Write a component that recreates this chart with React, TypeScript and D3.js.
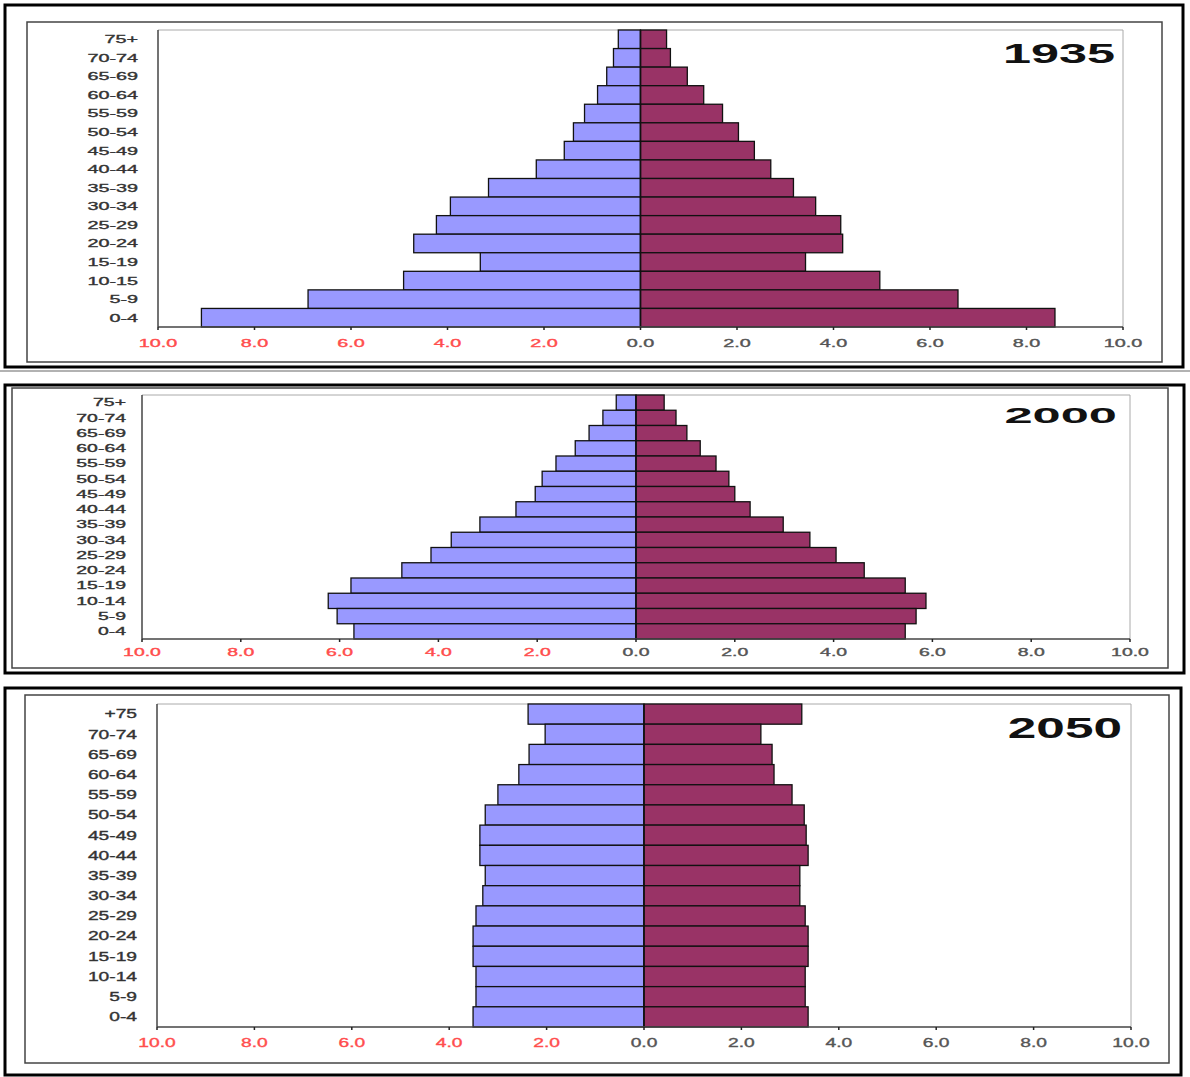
import * as d3 from "d3";

// age groups, top to bottom, as printed on each pyramid
const ages1935 = ["75+", "70-74", "65-69", "60-64", "55-59", "50-54", "45-49", "40-44", "35-39", "30-34", "25-29", "20-24", "15-19", "10-15", "5-9", "0-4"];
const ages2000 = ["75+", "70-74", "65-69", "60-64", "55-59", "50-54", "45-49", "40-44", "35-39", "30-34", "25-29", "20-24", "15-19", "10-14", "5-9", "0-4"];
const ages2050 = ["+75", "70-74", "65-69", "60-64", "55-59", "50-54", "45-49", "40-44", "35-39", "30-34", "25-29", "20-24", "15-19", "10-14", "5-9", "0-4"];

// % of population, left (blue) and right (maroon)
const male1935 = [0.46, 0.56, 0.7, 0.89, 1.16, 1.39, 1.58, 2.16, 3.15, 3.94, 4.23, 4.7, 3.32, 4.91, 6.89, 9.1];
const female1935 = [0.54, 0.62, 0.97, 1.31, 1.7, 2.03, 2.36, 2.7, 3.17, 3.63, 4.15, 4.19, 3.42, 4.96, 6.58, 8.59];
const male2000 = [0.4, 0.67, 0.95, 1.23, 1.62, 1.9, 2.04, 2.43, 3.16, 3.74, 4.15, 4.74, 5.77, 6.23, 6.05, 5.71];
const female2000 = [0.57, 0.81, 1.03, 1.3, 1.62, 1.88, 2.0, 2.31, 2.98, 3.52, 4.05, 4.62, 5.45, 5.87, 5.67, 5.45];
const male2050 = [2.38, 2.03, 2.36, 2.57, 3.0, 3.26, 3.37, 3.37, 3.26, 3.31, 3.45, 3.51, 3.51, 3.45, 3.45, 3.51];
const female2050 = [3.24, 2.4, 2.63, 2.67, 3.04, 3.29, 3.33, 3.37, 3.2, 3.2, 3.31, 3.37, 3.37, 3.31, 3.31, 3.37];

const xTicks = d3.range(-10, 10.01, 2);

const font = "'Liberation Sans', Arial, sans-serif";
const blue = "#9999ff";
const maroon = "#993366";

type Panel = {
  year: string;
  ages: string[];
  left: number[];
  right: number[];
  outer: [number, number, number, number];
  inner: [number, number, number, number];
  plot: { l: number; t: number; r: number; b: number };
  labelX: number;
  labelSize: number;
  sx: number;
  tickY: number;
  titleX: number;
  titleY: number;
  titleSize: number;
  titleSx: number;
};

const panels: Panel[] = [
  {
    year: "1935", ages: ages1935, left: male1935, right: female1935,
    outer: [5, 5, 1183, 367], inner: [27, 22, 1162, 362],
    plot: { l: 158, t: 30, r: 1123, b: 327 },
    labelX: 138, labelSize: 11, sx: 1.8, tickY: 347,
    titleX: 1115, titleY: 63, titleSize: 28, titleSx: 1.8,
  },
  {
    year: "2000", ages: ages2000, left: male2000, right: female2000,
    outer: [5, 385, 1184, 673], inner: [12, 388, 1168, 668],
    plot: { l: 142, t: 395, r: 1130, b: 639 },
    labelX: 126, labelSize: 10.5, sx: 1.85, tickY: 656,
    titleX: 1117, titleY: 423, titleSize: 22, titleSx: 2.3,
  },
  {
    year: "2050", ages: ages2050, left: male2050, right: female2050,
    outer: [5, 688, 1181, 1075], inner: [25, 695, 1169, 1063],
    plot: { l: 157, t: 704, r: 1131, b: 1027 },
    labelX: 137, labelSize: 12, sx: 1.6, tickY: 1047,
    titleX: 1122, titleY: 738, titleSize: 29, titleSx: 1.77,
  },
];

function Pyramid({ p }: { p: Panel }) {
  const { l, t, r, b } = p.plot;
  const x = d3.scaleLinear([-10, 10], [l, r]);
  const y = d3.scaleBand(p.ages, [t, b]).padding(0);
  const x0 = x(0);

  return (
    <g>
      <rect x={p.outer[0]} y={p.outer[1]} width={p.outer[2] - p.outer[0]} height={p.outer[3] - p.outer[1]} fill="white" stroke="#000" strokeWidth={3} />
      <rect x={p.inner[0]} y={p.inner[1]} width={p.inner[2] - p.inner[0]} height={p.inner[3] - p.inner[1]} fill="white" stroke="#444" strokeWidth={1.5} />

      {/* plot frame */}
      <line x1={l} x2={r} y1={t} y2={t} stroke="#aaa" />
      <line x1={r} x2={r} y1={t} y2={b} stroke="#aaa" />

      {/* bars */}
      <g stroke="#111" strokeWidth={1.3}>
        {p.ages.map((a, i) => (
          <rect key={"l" + a} x={x(-p.left[i])} y={y(a)} width={x0 - x(-p.left[i])} height={y.bandwidth()} fill={blue} />
        ))}
        {p.ages.map((a, i) => (
          <rect key={"r" + a} x={x0} y={y(a)} width={x(p.right[i]) - x0} height={y.bandwidth()} fill={maroon} />
        ))}
      </g>
      <line x1={x0} x2={x0} y1={t} y2={b} stroke="#111" strokeWidth={1.5} />

      {/* axes */}
      <line x1={l} x2={l} y1={t} y2={b} stroke="#444" strokeWidth={1.5} />
      <line x1={l} x2={r} y1={b} y2={b} stroke="#444" strokeWidth={1.5} />
      {xTicks.map((v) => (
        <g key={v}>
          <line x1={x(v)} x2={x(v)} y1={b} y2={b + 3} stroke="#222" strokeWidth={1.5} />
          <text
            transform={`translate(${x(v)},${p.tickY}) scale(${p.sx},1)`}
            textAnchor="middle"
            fontFamily={font}
            fontSize={p.labelSize}
            fill={v < 0 ? "#ff4d4d" : "#555"}
            stroke={v < 0 ? "#ff4d4d" : "#555"}
            strokeWidth={0.35}
          >
            {Math.abs(v).toFixed(1)}
          </text>
        </g>
      ))}

      {/* age labels */}
      {p.ages.map((a) => (
        <text
          key={a}
          transform={`translate(${p.labelX},${(y(a) ?? 0) + y.bandwidth() / 2 + p.labelSize * 0.36}) scale(${p.sx},1)`}
          textAnchor="end"
          fontFamily={font}
          fontSize={p.labelSize}
          fill="#333"
          stroke="#333"
          strokeWidth={0.35}
        >
          {a}
        </text>
      ))}

      <text
        transform={`translate(${p.titleX},${p.titleY}) scale(${p.titleSx},1)`}
        textAnchor="end"
        fontFamily={font}
        fontWeight="bold"
        fontSize={p.titleSize}
        fill="#111"
      >
        {p.year}
      </text>
    </g>
  );
}

export default function App() {
  return (
    <svg width={1190} height={1077} style={{ position: "absolute", left: 0, top: 0, display: "block" }}>
      <rect width={1190} height={1077} fill="white" />
      {panels.map((p) => (
        <Pyramid key={p.year} p={p} />
      ))}
      <line x1={0} x2={1190} y1={371} y2={371} stroke="#999" strokeWidth={1.5} />
    </svg>
  );
}
